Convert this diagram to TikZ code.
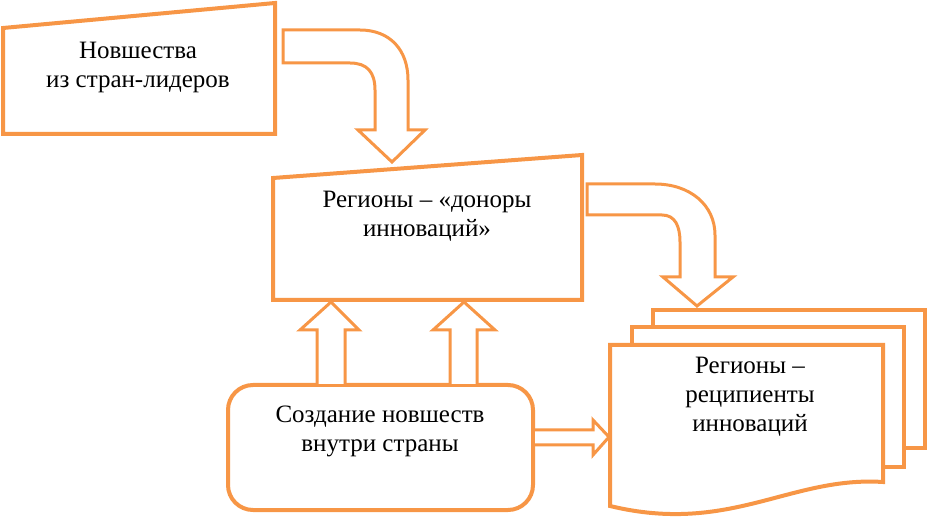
\documentclass[tikz,border=0pt]{standalone}
\usepackage{fontspec}
\setmainfont{Liberation Serif}
\newfontfamily\rmru{Liberation Serif}
\usepackage{xcolor}
\usepackage{tikz}

\definecolor{boxorange}{RGB}{247,150,70}

\tikzset{
    box/.style={draw=boxorange, line width=4pt, fill=white, line join=miter},
    blockarrow/.style={draw=boxorange, line width=3pt, fill=white, line join=miter},
    label/.style={align=center, font=\rmru\fontsize{25}{29}\selectfont, inner sep=0pt}
}

\begin{document}
\begin{tikzpicture}[x=1pt, y=-1pt]
    \useasboundingbox (0,0) rectangle (930,521);

    % Shapes
    \draw[box] (3,28) -- (275,3) -- (275,134) -- (3,134) -- cycle;
    \draw[box] (273,178) -- (582,155) -- (582,300) -- (273,300) -- cycle;
    \draw[box, rounded corners=25pt] (228,385) rectangle (533,510);
    \draw[box] (653,310) rectangle (925,448);
    \draw[box] (632,327) rectangle (904,467);
    \draw[box] (610,345) -- (883,345) -- (883,482)
        .. controls (790,476) and (730,535) .. (610,506) -- cycle;

    % Nodes
    \node[label] (lead) at (138,67) {Новшества\\из стран-лидеров};
    \node[label] (donors) at (427,216) {Регионы – «доноры\\инноваций»};
    \node[label] (domestic) at (380,431) {Создание новшеств\\внутри страны};
    \node[label] (recipients) at (750,397) {Регионы –\\реципиенты\\инноваций};

    % Arrows
    \draw[blockarrow] (283,30) -- (360,30) .. controls (390,30) and (408,50) .. (408,80)
        -- (408,130) -- (425,130) -- (392,162) -- (358,130) -- (375,130) -- (375,90)
        .. controls (375,72) and (367,63) .. (350,63) -- (283,63) -- cycle;
    \draw[blockarrow] (587,184) -- (655,184) .. controls (690,184) and (715,205) .. (715,235)
        -- (715,277) -- (733,277) -- (697,306) -- (663,277) -- (680,277) -- (680,242)
        .. controls (680,226) and (675,215) .. (662,215) -- (587,215) -- cycle;
    \draw[blockarrow] (317,384) -- (317,330) -- (300,330) -- (331,302) -- (359,330)
        -- (345,330) -- (345,384);
    \draw[blockarrow] (450,384) -- (450,330) -- (433,330) -- (464,302) -- (495,330)
        -- (477,330) -- (477,384);
    \draw[blockarrow] (535,430) -- (593,430) -- (593,420) -- (609,437) -- (593,455)
        -- (593,445) -- (535,445);
\end{tikzpicture}
\end{document}
